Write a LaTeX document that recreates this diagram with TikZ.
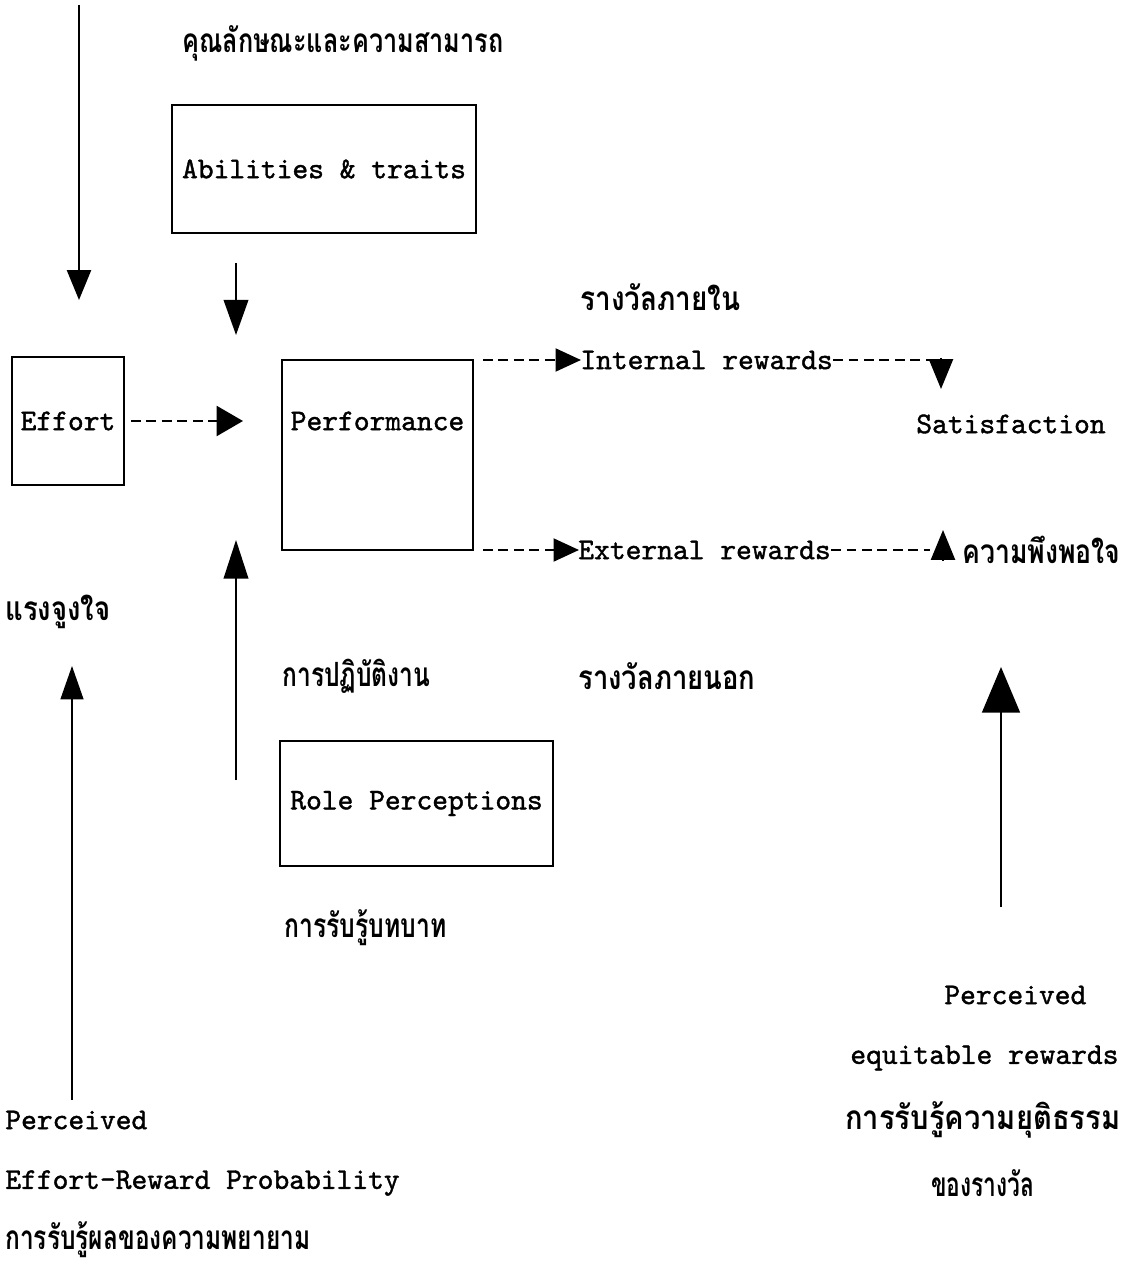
\documentclass[tikz,border=0pt]{standalone}
\usepackage{fontspec}
\usepackage{graphicx}
\setmainfont{lmmono10-regular.otf}[BoldFont=lmmono10-regular.otf, BoldFeatures={FakeBold=1.3}]
\newfontfamily\thaifont[Script=Thai]{Loma}
\usetikzlibrary{arrows.meta}
\newlength\pxu \setlength\pxu{0.02cm}
\newcommand\thw[2]{\resizebox{#1\pxu}{\height}{\thaifont\fontsize{19pt}{22pt}\selectfont #2}}
\begin{document}
\begin{tikzpicture}[x=0.02cm,y=-0.02cm,
  font=\fontsize{17.1pt}{20pt}\selectfont\bfseries,
  box/.style={draw, line width=1.1pt, inner sep=0pt},
  lbl/.style={inner sep=0pt, anchor=west},
  sline/.style={line width=1.1pt},
  dline/.style={line width=1.5pt, dash pattern=on 5.6pt off 3.2pt},
  tipS/.style={-{Triangle[length=17pt,width=13.7pt]}},
  tipM/.style={-{Triangle[length=20pt,width=14pt]}},
  tipH/.style={-{Triangle[length=14.5pt,width=13pt]}},
  tipE/.style={-{Triangle[length=15pt,width=17pt]}},
  tipL/.style={-{Triangle[length=26pt,width=21.6pt]}}]
\fill[white] (0,0) rectangle (1133,1266);
\useasboundingbox (0,0) rectangle (1133,1266);

% boxes
\node[box, minimum width=304\pxu, minimum height=128\pxu] (abil) at (324,169) {Abilities \& traits};
\node[box, minimum width=112\pxu, minimum height=128\pxu] (effort) at (68,421) {Effort};
\node[box, minimum width=191\pxu, minimum height=190\pxu] (perf) at (377.5,455) {};
\node[inner sep=0pt] (perftxt) at (377.5,421) {Performance};
\node[box, minimum width=273\pxu, minimum height=125\pxu] (role) at (416.5,803.5) {Role Perceptions};

% latin labels
\node[lbl] (int) at (580,360) {Internal rewards};
\node[lbl] (ext) at (578,550) {External rewards};
\node[lbl] (sat) at (916,424) {Satisfaction};
\node[lbl] (perc2) at (944,995) {Perceived};
\node[lbl] (equit) at (850,1058) {equitable rewards};
\node[lbl] (perc1) at (5,1120) {Perceived};
\node[lbl] (erp) at (5,1183) {Effort-Reward Probability};

% thai labels
\node[lbl] (th1) at (182,43) {\thw{321}{คุณลักษณะและความสามารถ}};
\node[lbl] (th2) at (580,297) {\thw{160}{รางวัลภายใน}};
\node[lbl] (th3) at (5,612) {\thw{105}{แรงจูงใจ}};
\node[lbl] (th4) at (282,676) {\thw{148}{การปฏิบัติงาน}};
\node[lbl] (th5) at (578,676) {\thw{177}{รางวัลภายนอก}};
\node[lbl] (th6) at (962,550) {\thw{158}{ความพึงพอใจ}};
\node[lbl] (th7) at (284,928) {\thw{162}{การรับรู้บทบาท}};
\node[lbl] (th8) at (845,1120) {\thw{275}{การรับรู้ความยุติธรรม}};
\node[lbl] (th9) at (931,1183) {\thw{103}{ของรางวัล}};
\node[lbl] (th10) at (5,1240) {\thw{305}{การรับรู้ผลของความพยายาม}};

% coordinates
\coordinate (a1s) at (79,5);
\coordinate (a1e) at (79,300);
\coordinate (a2s) at (236,263);
\coordinate (a2e) at (236,335);
\coordinate (a3s) at (131,421);
\coordinate (a3e) at (243,421);
\coordinate (a4s) at (483,360);
\coordinate (a4e) at (581,360);
\coordinate (a5s) at (483,550);
\coordinate (a5e) at (579,550);
\coordinate (a6m) at (931,360);
\coordinate (a6s) at (941,358);
\coordinate (a6e) at (941,389);
\coordinate (a7m) at (930,550);
\coordinate (a7s) at (943,561);
\coordinate (a7e) at (943,530);
\coordinate (a8s) at (236,780);
\coordinate (a8e) at (236,540);
\coordinate (a9s) at (72,1100);
\coordinate (a9e) at (72,666);
\coordinate (a10s) at (1001,907);
\coordinate (a10e) at (1001,667);

% connectors
\draw[sline, tipS] (a1s) -- (a1e);
\draw[sline, tipM] (a2s) -- (a2e);
\draw[dline, tipE] (a3s) -- (a3e);
\draw[dline, tipH] (a4s) -- (a4e);
\draw[dline, tipH] (a5s) -- (a5e);
\draw[dline] (int.east) -- (a6m);
\draw[sline, tipS] (a6s) -- (a6e);
\draw[dline] (ext.east) -- (a7m);
\draw[sline, tipS] (a7s) -- (a7e);
\draw[sline, -{Triangle[length=22pt,width=14pt]}] (a8s) -- (a8e);
\draw[sline, -{Triangle[length=19pt,width=13pt]}] (a9s) -- (a9e);
\draw[sline, tipL] (a10s) -- (a10e);
\end{tikzpicture}
\end{document}
